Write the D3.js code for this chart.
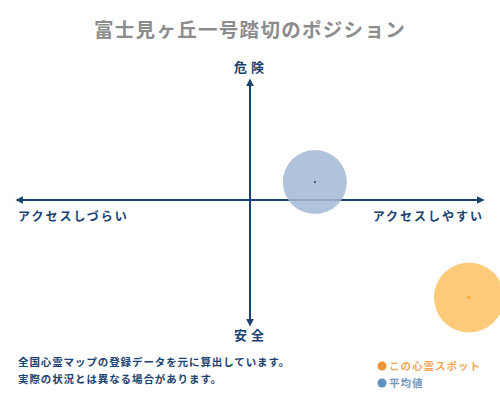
<!DOCTYPE html>
<html>
<head>
<meta charset="utf-8">
<script src="https://cdn.jsdelivr.net/npm/d3@7"></script>
<style>
  body { margin: 0; background: #fff; }
  text { font-family: "Noto Sans CJK JP", sans-serif; }
</style>
</head>
<body>
<div id="visual"></div>
<script>
// chart data
const title = "富士見ヶ丘一号踏切のポジション";
const axisLabels = ["危険", "安全", "アクセスしづらい", "アクセスしやすい"];
const seriesNames = ["この心霊スポット", "平均値"];
const seriesX = [4.76, 1.41];
const seriesY = [-3.9, 0.72];
const seriesColor = ["#fcc56a", "#a3b8d3"];
const dotColor = ["#f5a623", "#1a3d6b"];
const legendColor = ["#f0943a", "#5f8fbf"];
const notes = ["全国心霊マップの登録データを元に算出しています。", "実際の状況とは異なる場合があります。"];

const width = 500, height = 400;
const navy = "#1a4270";

const svg = d3.select("#visual")
  .append("svg")
    .attr("width", width)
    .attr("height", height);

const x = d3.scaleLinear().domain([-5, 5]).range([20, 480]);
const y = d3.scaleLinear().domain([-5, 5]).range([325, 75]);

// title
svg.append("text")
  .attr("x", 250).attr("y", 37)
  .attr("text-anchor", "middle")
  .attr("font-size", 19.5)
  .attr("font-weight", "bold")
  .attr("letter-spacing", 1.3)
  .attr("fill", "#8c8c8c")
  .text(title);

// arrow marker
svg.append("defs").append("marker")
  .attr("id", "arrow")
  .attr("viewBox", "0 0 10 10")
  .attr("refX", 8).attr("refY", 5)
  .attr("markerWidth", 4).attr("markerHeight", 4)
  .attr("orient", "auto-start-reverse")
  .append("path")
    .attr("d", "M0,0 L10,5 L0,10 z")
    .attr("fill", navy);

// axes
svg.append("line")
  .attr("x1", x(-5) - 3).attr("x2", x(5) + 3)
  .attr("y1", y(0)).attr("y2", y(0))
  .attr("stroke", navy).attr("stroke-width", 2)
  .attr("marker-start", "url(#arrow)")
  .attr("marker-end", "url(#arrow)");

svg.append("line")
  .attr("x1", x(0)).attr("x2", x(0))
  .attr("y1", 80).attr("y2", 325)
  .attr("stroke", navy).attr("stroke-width", 2)
  .attr("marker-start", "url(#arrow)")
  .attr("marker-end", "url(#arrow)");

// axis labels
const lab = svg.append("g")
  .attr("fill", navy)
  .attr("font-weight", "bold");
lab.append("text").attr("x", 251).attr("y", 72)
  .attr("text-anchor", "middle").attr("font-size", 13).attr("letter-spacing", 4)
  .text(axisLabels[0]);
lab.append("text").attr("x", 251).attr("y", 340)
  .attr("text-anchor", "middle").attr("font-size", 13).attr("letter-spacing", 4)
  .text(axisLabels[1]);
lab.append("text").attr("x", 18).attr("y", 221)
  .attr("font-size", 12).attr("letter-spacing", 2)
  .text(axisLabels[2]);
lab.append("text").attr("x", 484).attr("y", 221)
  .attr("text-anchor", "end").attr("font-size", 12).attr("letter-spacing", 2)
  .text(axisLabels[3]);

// bubbles
svg.selectAll("circle.bubble")
  .data(seriesX)
  .enter()
  .append("circle")
  .attr("class", "bubble")
  .attr("cx", (d, i) => x(d))
  .attr("cy", (d, i) => y(seriesY[i]))
  .attr("r", (d, i) => i === 0 ? 35 : 32)
  .attr("fill", (d, i) => seriesColor[i])
  .attr("opacity", (d, i) => i === 0 ? 0.9 : 0.85);

svg.selectAll("circle.center")
  .data(seriesX)
  .enter()
  .append("circle")
  .attr("class", "center")
  .attr("cx", (d, i) => x(d))
  .attr("cy", (d, i) => y(seriesY[i]))
  .attr("r", (d, i) => i === 0 ? 1.5 : 1)
  .attr("fill", (d, i) => dotColor[i]);

// notes
svg.selectAll("text.note")
  .data(notes)
  .enter()
  .append("text")
  .attr("class", "note")
  .attr("x", 18)
  .attr("y", (d, i) => 366 + i * 17)
  .attr("font-size", 10.5)
  .attr("font-weight", "bold")
  .attr("letter-spacing", 0.9)
  .attr("fill", navy)
  .text(d => d);

// legend
const leg = svg.selectAll("g.legend")
  .data(seriesNames)
  .enter()
  .append("g")
  .attr("class", "legend")
  .attr("transform", (d, i) => "translate(382," + (366 + i * 17) + ")");
leg.append("circle")
  .attr("r", 4.5)
  .attr("fill", (d, i) => legendColor[i]);
leg.append("text")
  .attr("x", 7).attr("y", 4)
  .attr("font-size", 10.5)
  .attr("font-weight", "bold")
  .attr("letter-spacing", 1)
  .attr("fill", (d, i) => i === 0 ? "#f2a65a" : "#7397bf")
  .text(d => d);
</script>
</body>
</html>
